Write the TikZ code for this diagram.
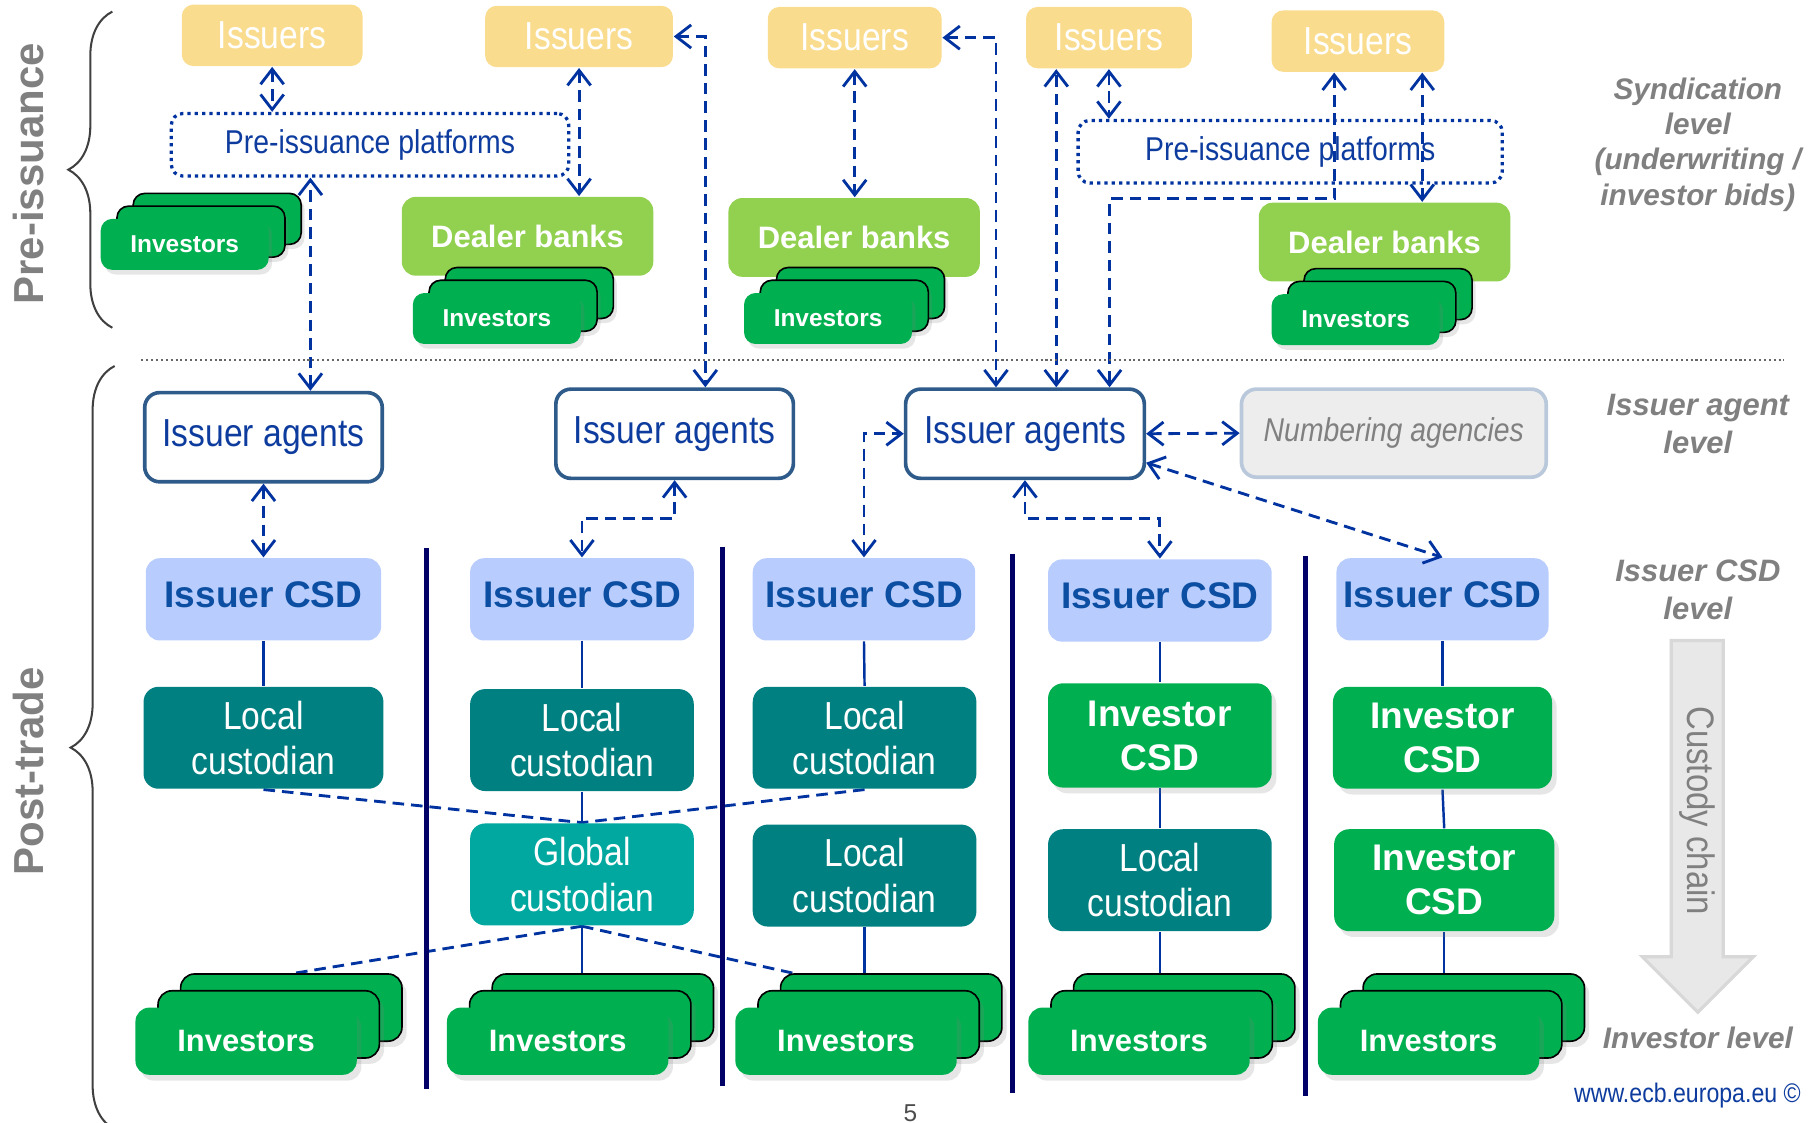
\documentclass[tikz,border=0pt]{standalone}
\usepackage{fontspec}
\setmainfont{Liberation Sans}
\newfontfamily\narrowfont[FakeStretch=0.86]{Liberation Sans}
\usetikzlibrary{arrows.meta,shadows,decorations.pathreplacing}

\definecolor{issyellow}{HTML}{F9DC8E}
\definecolor{arrowblue}{HTML}{0033A0}
\definecolor{textblue}{HTML}{0D3C9E}
\definecolor{agentborder}{HTML}{2F5B8A}
\definecolor{csdfill}{HTML}{B8CDFE}
\definecolor{csdtext}{HTML}{0B4EA2}
\definecolor{localteal}{HTML}{008080}
\definecolor{globalteal}{HTML}{00A8A0}
\definecolor{invgreen}{HTML}{00B050}
\definecolor{dealergreen}{HTML}{92D050}
\definecolor{labelgray}{HTML}{808080}
\definecolor{sepnavy}{HTML}{000066}
\definecolor{numfill}{HTML}{EDEDED}
\definecolor{numborder}{HTML}{B9C9DB}
\definecolor{chainfill}{HTML}{E8E8E8}
\definecolor{chainborder}{HTML}{D8D8D8}

\pgfdeclarelayer{background}
\pgfsetlayers{background,main}

\tikzstyle{issuers}=[rectangle,rounded corners=1mm,fill=issyellow,text=white,minimum height=0.53cm,inner sep=0pt,font=\narrowfont\fontsize{9.6}{10}\selectfont]
\tikzstyle{platform}=[rectangle,rounded corners=1mm,draw=arrowblue,line width=0.8pt,densely dotted,text=textblue,minimum height=0.54cm,inner sep=0pt,font=\narrowfont\fontsize{8.1}{9}\selectfont]
\tikzstyle{dealer}=[rectangle,rounded corners=1.2mm,fill=dealergreen,text=white,minimum width=2.17cm,minimum height=0.68cm,inner sep=0pt,font=\bfseries\fontsize{7.6}{9}\selectfont]
\tikzstyle{invsmall}=[rectangle,rounded corners=1mm,fill=invgreen,text=white,minimum width=1.45cm,minimum height=0.44cm,inner sep=0pt,font=\bfseries\fontsize{6}{7}\selectfont,
  drop shadow={shadow xshift=0.31cm,shadow yshift=0.18cm,opacity=0.2},
  copy shadow={shadow xshift=0.28cm,shadow yshift=0.22cm,fill=invgreen},
  drop shadow={shadow xshift=0.17cm,shadow yshift=0.07cm,opacity=0.2},
  copy shadow={shadow xshift=0.14cm,shadow yshift=0.11cm,fill=invgreen},
  drop shadow={shadow xshift=0.03cm,shadow yshift=-0.04cm,opacity=0.2}]
\tikzstyle{invbig}=[rectangle,rounded corners=1.2mm,fill=invgreen,text=white,minimum width=1.91cm,minimum height=0.58cm,inner sep=0pt,font=\bfseries\fontsize{7.6}{9}\selectfont,
  drop shadow={shadow xshift=0.43cm,shadow yshift=0.24cm,opacity=0.2},
  copy shadow={shadow xshift=0.39cm,shadow yshift=0.29cm,fill=invgreen},
  drop shadow={shadow xshift=0.235cm,shadow yshift=0.095cm,opacity=0.2},
  copy shadow={shadow xshift=0.195cm,shadow yshift=0.145cm,fill=invgreen},
  drop shadow={shadow xshift=0.04cm,shadow yshift=-0.05cm,opacity=0.2}]
\tikzstyle{agent}=[rectangle,rounded corners=1.3mm,draw=agentborder,line width=0.9pt,fill=white,text=textblue,minimum width=2.05cm,minimum height=0.77cm,inner sep=0pt,font=\narrowfont\fontsize{9.6}{11}\selectfont]
\tikzstyle{numbering}=[rectangle,rounded corners=1.3mm,draw=numborder,line width=0.9pt,fill=numfill,text=labelgray,minimum width=2.63cm,minimum height=0.76cm,inner sep=0pt,font=\narrowfont\itshape\fontsize{8.1}{9}\selectfont]
\tikzstyle{csd}=[rectangle,rounded corners=1.2mm,fill=csdfill,text=csdtext,minimum width=1.93cm,minimum height=0.71cm,inner sep=0pt,text depth=0.08cm,font=\bfseries\fontsize{9.1}{11}\selectfont]
\tikzstyle{localcust}=[rectangle,rounded corners=1.3mm,fill=localteal,text=white,minimum width=1.93cm,minimum height=0.88cm,inner sep=0pt,align=center,font=\narrowfont\fontsize{9.6}{11.1}\selectfont]
\tikzstyle{globalcust}=[localcust,fill=globalteal]
\tikzstyle{invcsd}=[rectangle,rounded corners=1.3mm,fill=invgreen,text=white,minimum width=1.93cm,minimum height=0.88cm,inner sep=0pt,align=center,font=\bfseries\fontsize{9.1}{10.8}\selectfont,
  drop shadow={shadow xshift=0.04cm,shadow yshift=-0.05cm,opacity=0.2}]
\tikzstyle{link}=[arrowblue,line width=0.7pt,dash pattern=on 1mm off 0.6mm,<->,>={Straight Barb[length=1.3mm,width=2mm]}]
\tikzstyle{tie}=[arrowblue,line width=0.6pt]
\tikzstyle{dashtie}=[arrowblue,line width=0.7pt,dash pattern=on 1mm off 0.6mm]
\tikzstyle{sep}=[sepnavy,line width=1.2pt]
\tikzstyle{brace}=[black!75,line width=0.5pt,decorate,decoration={brace,amplitude=0.38cm}]
\tikzstyle{sidelabel}=[text=labelgray,font=\bfseries\fontsize{10.3}{12}\selectfont]
\tikzstyle{levellabel}=[text=labelgray,align=center,font=\bfseries\itshape\fontsize{7.6}{9.4}\selectfont]

\begin{document}
\begin{tikzpicture}[x=0.01cm,y=-0.01cm]
  \useasboundingbox (0,0) rectangle (1568,969);

  % pre-issuance
  \node[issuers,minimum width=1.56cm] (iss1) at (235,30.5)   {Issuers};
  \node[issuers,minimum width=1.62cm] (iss2) at (500,31.5)   {Issuers};
  \node[issuers,minimum width=1.50cm] (iss3) at (738,32.5)   {Issuers};
  \node[issuers,minimum width=1.43cm] (iss4) at (957.5,32.5) {Issuers};
  \node[issuers,minimum width=1.49cm] (iss5) at (1172.5,35.5) {Issuers};
  \node[platform,minimum width=3.43cm] (pip1) at (319.5,125) {Pre-issuance platforms};
  \node[platform,minimum width=3.66cm] (pip2) at (1114,131)  {Pre-issuance platforms};
  \node[dealer] (db1) at (455.5,204)  {Dealer banks};
  \node[dealer] (db2) at (737.5,205)  {Dealer banks};
  \node[dealer] (db3) at (1195.5,209) {Dealer banks};
  \node[invsmall] (invA) at (159.5,211) {Investors};
  \node[invsmall] (invB) at (429,275)   {Investors};
  \node[invsmall] (invC) at (715,275)   {Investors};
  \node[invsmall] (invD) at (1170.5,276) {Investors};

  % post-trade
  \node[agent] (ia1) at (227.5,377.5) {Issuer agents};
  \node[agent] (ia2) at (582.5,374.5) {Issuer agents};
  \node[agent,minimum width=2.06cm] (ia3) at (885,374.5) {Issuer agents};
  \node[numbering] (num) at (1203.5,374) {Numbering agencies};
  \node[csd,minimum width=2.03cm] (csd1) at (227.5,517.5) {Issuer CSD};
  \node[csd] (csd2) at (502.5,517.5) {Issuer CSD};
  \node[csd,minimum width=1.92cm] (csd3) at (746,517.5) {Issuer CSD};
  \node[csd] (csd4) at (1001.5,518.5) {Issuer CSD};
  \node[csd,minimum width=1.83cm] (csd5) at (1245.5,517.5) {Issuer CSD};
  \node[localcust,minimum width=2.07cm] (loc1) at (227.5,637) {Local\\custodian};
  \node[localcust] (loc2) at (502.5,639) {Local\\custodian};
  \node[localcust] (loc3) at (746.5,637) {Local\\custodian};
  \node[invcsd,minimum height=0.90cm] (icsd4) at (1001.5,635) {Investor\\CSD};
  \node[invcsd,minimum width=1.89cm] (icsd5) at (1245.5,637) {Investor\\CSD};
  \node[globalcust] (glob) at (502.5,755) {Global\\custodian};
  \node[localcust] (loc3b) at (746.5,756) {Local\\custodian};
  \node[localcust] (loc4b) at (1001.5,760) {Local\\custodian};
  \node[invcsd,minimum width=1.90cm] (icsd5b) at (1247,760) {Investor\\CSD};
  \node[invbig] (inv1) at (212.5,899)  {Investors};
  \node[invbig] (inv2) at (481.5,899)  {Investors};
  \node[invbig] (inv3) at (730.5,899)  {Investors};
  \node[invbig] (inv4) at (983.5,899)  {Investors};
  \node[invbig] (inv5) at (1233.5,899) {Investors};
  \coordinate (g1) at (250,841);
  \coordinate (g3) at (688,841);

  \begin{pgfonlayer}{background}
    \draw[tie] (csd1.south) -- (loc1.north);
    \draw[tie] (csd2.south) -- (loc2.north);
    \draw[tie] (loc2.south) -- (glob.north);
    \draw[tie] (glob.south) -- (glob.south |- inv2.north);
    \draw[tie] (csd3.south) -- (loc3.north);
    \draw[tie] (loc3b.south) -- (loc3b.south |- inv3.north);
    \draw[tie] (csd4.south) -- (icsd4.north);
    \draw[tie] (icsd4.south) -- (loc4b.north);
    \draw[tie] (loc4b.south) -- (loc4b.south |- inv4.north);
    \draw[tie] (csd5.south) -- (icsd5.north);
    \draw[tie] (icsd5.south) -- (icsd5b.north);
    \draw[tie] (icsd5b.south) -- (icsd5b.south |- inv5.north);
    \draw[dashtie] (loc1.south) -- (glob.north);
    \draw[dashtie] (loc3.south) -- (glob.north);
    \draw[dashtie] (glob.south) -- (g1);
    \draw[dashtie] (glob.south) -- (g3);
  \end{pgfonlayer}

  % links
  \draw[link] (iss1.south) -- (iss1.south |- pip1.north);
  \draw[link] ([xshift=0.405cm]ia1.north) -- ([xshift=0.405cm]ia1.north |- pip1.south);
  \draw[link] (iss2.south) -- (iss2.south |- db1.north);
  \draw[link] (iss2.east) -| ([xshift=0.265cm]ia2.north);
  \draw[link] (iss3.south) -- (iss3.south |- db2.north);
  \draw[link] (iss3.east) -| ([xshift=-0.25cm]ia3.north);
  \draw[link] ([xshift=0.27cm]ia3.north) -- ([xshift=0.27cm]ia3.north |- iss4.south);
  \draw[link] (iss4.south) -- (iss4.south |- pip2.north);
  \draw[link] ([xshift=-0.205cm]iss5.south) -- ++(0,109) -| ([xshift=0.73cm]ia3.north);
  \draw[link] ([xshift=0.555cm]iss5.south) -- ([xshift=0.555cm]iss5.south |- db3.north);
  \draw[link] (ia1.south) -- (csd1.north);
  \draw[link] (ia2.south) -- ++(0,33) -| (csd2.north);
  \draw[link] (csd3.north) |- (ia3.west);
  \draw[link] (ia3.south) -- ++(0,33) -| (csd4.north);
  \draw[link] (ia3.east) -- (num.west);
  \draw[link] ([yshift=-0.25cm]ia3.east) -- (csd5.north);

  % frame
  \draw[black!60,line width=0.5pt,dash pattern=on 0.5pt off 0.7pt] (122,311) -- (1540,311);
  \draw[sep] (368,473) -- (368,940);
  \draw[sep] (624,472) -- (624,938);
  \draw[sep] (874,478) -- (874,944);
  \draw[sep] (1127,480) -- (1127,946);
  \draw[brace] (97,283) -- (97,10);
  \draw[brace] (99,975) -- (99,316);
  \node[sidelabel,rotate=90] (pre) at (25,150) {Pre-issuance};
  \node[sidelabel,rotate=90] (post) at (25,666) {Post-trade};

  % levels
  \node[levellabel,font=\bfseries\itshape\fontsize{7.3}{8.6}\selectfont] (synd) at (1466,125) {Syndication\\level\\(underwriting /\\investor bids)};
  \node[levellabel] (agentlvl) at (1466,366) {Issuer agent\\level};
  \node[levellabel] (csdlvl) at (1466,509) {Issuer CSD\\level};
  \node[levellabel,font=\bfseries\itshape\fontsize{7.3}{9}\selectfont] (invlvl) at (1466,896) {Investor level};
  \draw[fill=chainfill,draw=chainborder,line width=0.8pt] (1443,553) -- (1488,553) -- (1488,826) -- (1514,826) -- (1466,874) -- (1418,826) -- (1443,826) -- cycle;
  \node[text=labelgray,rotate=-90,font=\narrowfont\fontsize{9.4}{10}\selectfont] (chain) at (1466,700) {Custody chain};
  \node[text=textblue,font=\narrowfont\fontsize{6.6}{7}\selectfont] (web) at (1457,946) {www.ecb.europa.eu ©};
  \node[text=black!70,font=\fontsize{6}{7}\selectfont] (page) at (786,961) {5};
\end{tikzpicture}
\end{document}
